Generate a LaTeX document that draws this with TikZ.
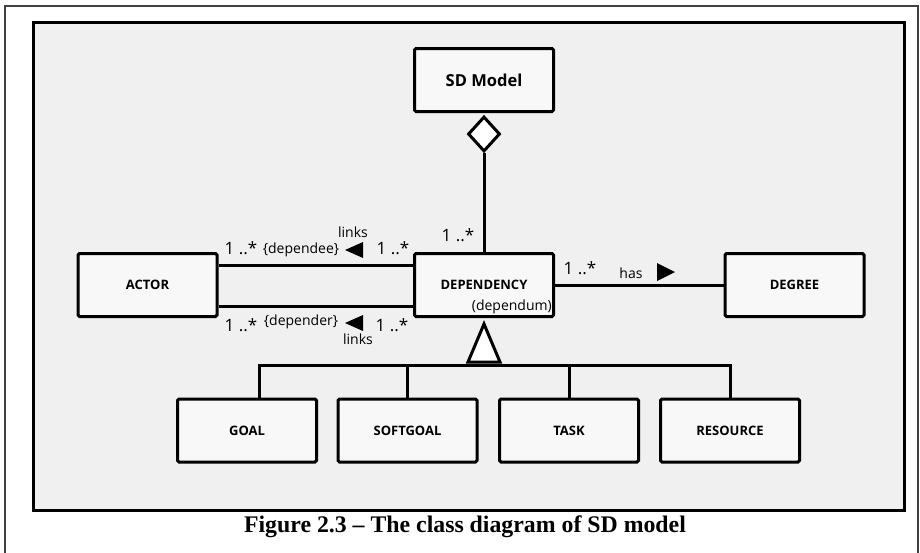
\documentclass[tikz,border=0pt]{standalone}
\usepackage{fontspec}
\setmainfont{Liberation Serif}
\newfontfamily\umlfont{Open Sans}
\usetikzlibrary{shapes.geometric}

\definecolor{panelfill}{HTML}{F0F0F0}
\definecolor{boxfill}{HTML}{F8F8F8}

\tikzset{
  classbox/.style = {draw, line width=3pt, fill=boxfill, rounded corners=1.5pt,
    minimum width=139pt, minimum height=63pt, inner sep=0pt,
    font=\umlfont\bfseries\fontsize{13}{15}\selectfont},
  mult/.style = {inner sep=0pt, font=\umlfont\fontsize{17}{19}\selectfont},
  role/.style = {inner sep=0pt, font=\umlfont\fontsize{14}{16}\selectfont},
  link/.style = {line width=3pt},
}

\begin{document}
\begin{tikzpicture}[x=1pt, y=-1pt]
        \useasboundingbox (0,0) rectangle (920,552);

        % page frame and grey panel
        \draw[line width=1.4pt, black!75] (5,553) -- (5,6) -- (918,6) -- (918,553);
        \draw[line width=3pt, fill=panelfill] (33,22) rectangle (904,510);

        % classes
        \node[classbox, font=\umlfont\bfseries\fontsize{16.5}{19}\selectfont] (sdmodel) at (484,80) {SD Model};
        \node[classbox] (actor) at (147.5,285) {ACTOR};
        \node[classbox] (dependency) at (484,285) {DEPENDENCY};
        \node[classbox] (degree) at (794.5,285) {DEGREE};
        \node[classbox] (goal) at (247,430.5) {GOAL};
        \node[classbox] (softgoal) at (407.5,430.5) {SOFTGOAL};
        \node[classbox] (task) at (569,430.5) {TASK};
        \node[classbox] (resource) at (730,430.5) {RESOURCE};
        \node[role, anchor=east] (dependum) at ([xshift=-3pt, yshift=-22pt]dependency.east) {(dependum)};

        % aggregation
        \node[diamond, draw, line width=3pt, fill=white, inner sep=0pt,
              minimum width=32pt, minimum height=35pt, anchor=north] (agg) at ([yshift=-2pt]sdmodel.south) {};
        \draw[link] (agg.south) -- (dependency.north);
        \node[mult] (multsd) at (458,235) {1 ..*};

        % actor - dependency
        \draw[link] ([yshift=20pt]actor.east) -- ([yshift=20pt]dependency.west);
        \draw[link] ([yshift=-21pt]actor.east) -- ([yshift=-21pt]dependency.west);

        \node[mult] (multa) at (241,248) {1 ..*};
        \node[role] (dependee) at (301,250) {\{dependee\}};
        \node[role] (linksa) at (353,232) {links};
        \node[mult] (multb) at (393,248) {1 ..*};
        \fill (345,250) -- (363,242) -- (363,258) -- cycle;

        \node[mult] (multc) at (241,325) {1 ..*};
        \node[role] (depender) at (301,322) {\{depender\}};
        \node[role] (linksb) at (358,339) {links};
        \node[mult] (multd) at (392,325) {1 ..*};
        \fill (345,323) -- (363,315) -- (363,331) -- cycle;

        % dependency - degree
        \draw[link] (dependency.east) -- (degree.west);
        \node[mult] (multe) at (580,268) {1 ..*};
        \node[role] (has) at (631,273) {has};
        \fill (675,272) -- (657,263) -- (657,281) -- cycle;

        % generalisation
        \coordinate (bar) at (484,365);
        \draw[link] ([xshift=12pt]goal.north) |- (resource.north |- bar) -- (resource.north);
        \foreach \n in {softgoal, task}
            \draw[link] (\n.north) -- (\n.north |- bar);
        \draw[line width=3pt, fill=white] (468,362) -- (500,362) -- (484,324) -- cycle;

        % caption
        \node[inner sep=0pt, font=\bfseries\fontsize{23.8}{28}\selectfont] (caption) at (465,527)
            {Figure 2.3 – The class diagram of SD model};
\end{tikzpicture}
\end{document}
